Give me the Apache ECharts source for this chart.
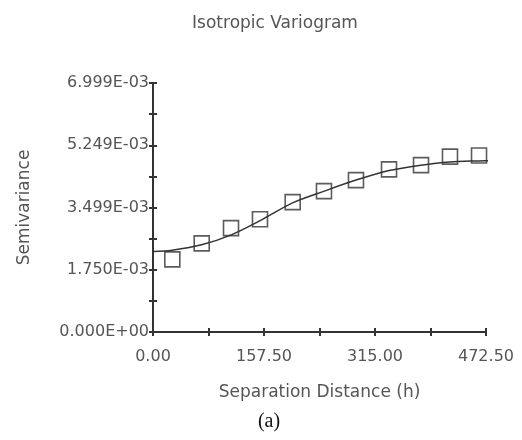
<!DOCTYPE html>
<html>
<head>
<meta charset="utf-8">
<script src="https://cdn.jsdelivr.net/npm/echarts@6/dist/echarts.min.js"></script>
<style>html,body{margin:0;padding:0;background:#fff;}#c{width:522px;height:440px;}</style>
</head>
<body>
<div id="c"></div>
<script>
// Experimental semivariance (squares)
var lagDistance = [27.4, 69.1, 110.7, 151.8, 198.2, 242.6, 288.0, 334.9, 380.3, 421.4, 462.6];
var semivariance = [0.00204, 0.00249, 0.00292, 0.00317, 0.00365, 0.00396, 0.00427, 0.00457, 0.00469, 0.00493, 0.00496];
// Fitted model curve
var modelDistance = [0, 27, 69, 111, 152, 198, 243, 288, 335, 380, 421, 463, 482];
var modelValue = [0.00226, 0.00230, 0.00245, 0.00273, 0.00313, 0.00363, 0.00396, 0.00427, 0.00454, 0.00469, 0.00478, 0.00481, 0.00482];
// Tick labels
var xTickLabels = ['0.00', '', '157.50', '', '315.00', '', '472.50'];
var yTickLabels = ['0.000E+00', '', '1.750E-03', '', '3.499E-03', '', '5.249E-03', '', '6.999E-03'];
var xMax = 472.5, xStep = 78.75;
var yMax = 0.006999, yStep = 0.006999 / 8;

var font = 'DejaVu Sans';
var txt = '#555';
var axisCol = '#333';

var chart = echarts.init(document.getElementById('c'), null, {renderer: 'canvas'});
function pts(xs, ys) { return xs.map(function (x, i) { return [x, ys[i]]; }); }

var xBase = {type: 'value', min: 0, max: xMax, interval: xStep, splitLine: {show: false}};
var yBase = {type: 'value', min: 0, max: yMax, interval: yStep, splitLine: {show: false}};

chart.setOption({
  animation: false,
  backgroundColor: '#fff',
  title: [
    {text: 'Isotropic Variogram', left: 270, top: 10, textAlign: 'center',
     textStyle: {fontFamily: font, fontSize: 17, fontWeight: 'normal', color: txt}},
    {text: '(a)', left: 264, top: 407, textAlign: 'center',
     textStyle: {fontFamily: 'Liberation Serif', fontSize: 20, fontWeight: 'normal', color: '#111'}}
  ],
  grid: {left: 153, right: 36, top: 83, bottom: 108, containLabel: false},
  xAxis: [
    Object.assign({}, xBase, {
      name: 'Separation Distance (h)', nameLocation: 'middle', nameGap: 52,
      nameTextStyle: {fontFamily: font, fontSize: 17, color: txt},
      axisLine: {show: true, lineStyle: {color: axisCol, width: 2}},
      axisTick: {show: true, inside: false, length: 4, lineStyle: {color: axisCol, width: 2}},
      axisLabel: {fontFamily: font, fontSize: 16, color: txt, margin: 17,
        formatter: function (v, i) { return xTickLabels[Math.round(v / xStep)]; }}
    }),
    Object.assign({}, xBase, {
      position: 'bottom', axisLine: {show: false},
      axisTick: {show: true, inside: true, length: 4, lineStyle: {color: axisCol, width: 2}},
      axisLabel: {show: false}
    })
  ],
  yAxis: [
    Object.assign({}, yBase, {
      name: 'Semivariance', nameLocation: 'middle', nameGap: 120,
      nameTextStyle: {fontFamily: font, fontSize: 17, color: txt},
      axisLine: {show: true, lineStyle: {color: axisCol, width: 2}},
      axisTick: {show: true, inside: false, length: 4, lineStyle: {color: axisCol, width: 2}},
      axisLabel: {fontFamily: font, fontSize: 16, color: txt, margin: 4,
        formatter: function (v, i) { return yTickLabels[Math.round(v / yStep)]; }}
    }),
    Object.assign({}, yBase, {
      position: 'left', axisLine: {show: false},
      axisTick: {show: true, inside: true, length: 4, lineStyle: {color: axisCol, width: 2}},
      axisLabel: {show: false}
    })
  ],
  series: [
    {type: 'line', data: pts(modelDistance, modelValue), smooth: 0.3, showSymbol: false, symbol: 'none',
     clip: false, lineStyle: {color: '#333', width: 1.5}, z: 2},
    {type: 'scatter', data: pts(lagDistance, semivariance), symbol: 'rect', symbolSize: 15,
     itemStyle: {color: 'rgba(0,0,0,0)', borderColor: '#333', borderWidth: 1.6}, z: 3}
  ]
});
</script>
</body>
</html>
